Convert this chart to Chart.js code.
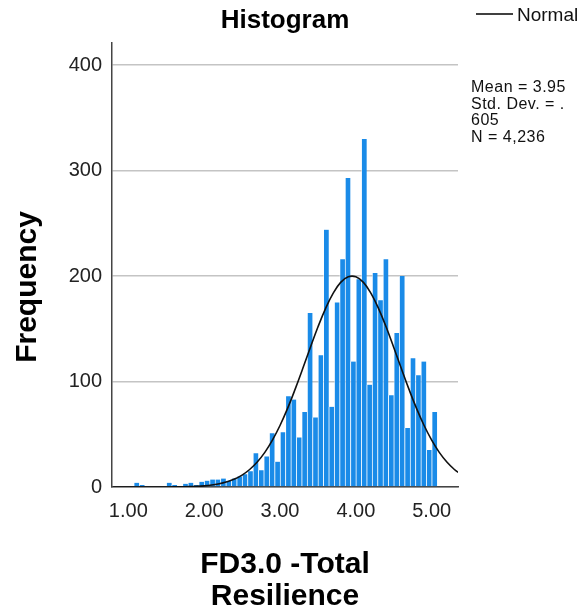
<!DOCTYPE html>
<html>
<head>
<meta charset="utf-8">
<title>Histogram</title>
<script src="https://cdn.jsdelivr.net/npm/chart.js@4.4.1/dist/chart.umd.min.js"></script>
<style>
  html, body { margin: 0; padding: 0; background: #fff; }
  #wrap { width: 581px; height: 613px; position: relative; }
</style>
</head>
<body>
<div id="wrap"><canvas id="histChart"></canvas></div>
<script>
// Histogram bins are 1/14 wide, first one starts at 1 + 1/14
const binStart = 1 + 1 / 14;
const binWidth = 1 / 14;
const counts = [4, 2, 0, 0, 0, 0, 4, 2, 1, 3, 4, 2, 5, 6, 7, 7, 8, 6, 8, 10, 12, 15, 32, 16, 29,
    51, 24, 52, 86, 83, 47, 71, 165, 66, 125, 244, 76, 175, 216, 293, 119, 197, 330, 97, 203,
    177, 216, 87, 146, 200, 56, 122, 106, 119, 35, 71];

// Normal curve
const normalX = [0.8, 0.9, 1.0, 1.1, 1.2, 1.3, 1.4, 1.5, 1.6, 1.7, 1.8, 1.9, 2.0, 2.1, 2.2, 2.3, 2.4,
    2.5, 2.6, 2.7, 2.8, 2.9, 3.0, 3.1, 3.2, 3.3, 3.4, 3.5, 3.6, 3.7, 3.8, 3.9, 4.0, 4.1, 4.2, 4.3,
    4.4, 4.5, 4.6, 4.7, 4.8, 4.9, 5.0, 5.1, 5.2, 5.3, 5.35];
const normalY = [0, 0, 0, 0, 0, 0, 0, 0, 0.1, 0.2, 0.4, 0.6, 1.1, 1.9, 3.0, 4.9, 7.5,
    11.3, 16.6, 23.7, 32.8, 44.4, 58.3, 74.5, 92.8, 112.3, 132.3, 151.7, 169.2, 183.6, 194.0, 199.3, 199.3, 194.0, 183.6, 169.2,
    151.7, 132.3, 112.3, 92.8, 74.5, 58.3, 44.4, 32.8, 23.7, 16.6, 13.8];

const xTicks = [1, 2, 3, 4, 5];
const yTicks = [0, 100, 200, 300, 400];

const statLines = ['Mean = 3.95', 'Std. Dev. = .', '605', 'N = 4,236'];
const legendLabel = 'Normal';

const barData = counts.map((c, i) => ({ x: binStart + (i + 0.5) * binWidth, y: c }));
const curveData = normalX.map((x, i) => ({ x: x, y: normalY[i] }));

const FONT = '"Liberation Sans", Arial, sans-serif';

// Text that sits outside the axes: y title, legend and the stats box
const extraText = {
    id: 'extraText',
    afterDraw(chart) {
        const ctx = chart.ctx;

        ctx.save();
        ctx.fillStyle = '#000';
        ctx.font = 'bold 30px ' + FONT;
        ctx.textAlign = 'center';
        ctx.textBaseline = 'middle';
        ctx.translate(28, 287);
        ctx.rotate(-Math.PI / 2);
        ctx.fillText('Frequency', 0, 0);
        ctx.restore();

        ctx.save();
        ctx.strokeStyle = '#000';
        ctx.lineWidth = 1.5;
        ctx.beginPath();
        ctx.moveTo(476, 14);
        ctx.lineTo(513, 14);
        ctx.stroke();
        ctx.fillStyle = '#111';
        ctx.font = '19px ' + FONT;
        ctx.textAlign = 'left';
        ctx.textBaseline = 'middle';
        ctx.fillText(legendLabel, 517, 16);

        ctx.font = '16px ' + FONT;
        ctx.letterSpacing = '0.5px';
        statLines.forEach((line, i) => {
            ctx.fillText(line, 471, 88 + i * 16.5);
        });
        ctx.restore();
    }
};

new Chart(document.getElementById('histChart'), {
    data: {
        datasets: [
            {
                type: 'line',
                label: 'Normal',
                data: curveData,
                borderColor: '#111',
                borderWidth: 1.6,
                pointRadius: 0,
                tension: 0.4,
                fill: false
            },
            {
                type: 'bar',
                label: 'Frequency',
                data: barData,
                backgroundColor: '#1a8be8',
                borderColor: 'rgba(255,255,255,0.55)',
                borderWidth: { left: 1, right: 0, top: 0, bottom: 0 },
                barPercentage: 1,
                categoryPercentage: 1
            }
        ]
    },
    options: {
        responsive: true,
        maintainAspectRatio: false,
        animation: false,
        events: [],
        layout: { padding: { left: 0, right: 123, top: 0, bottom: 0 } },
        plugins: {
            legend: { display: false },
            tooltip: { enabled: false },
            title: {
                display: true,
                fullSize: false,
                text: 'Histogram',
                color: '#000',
                font: { family: FONT, size: 26, weight: 'bold', lineHeight: 1.2 },
                padding: { top: 5, bottom: 6.8 }
            }
        },
        scales: {
            x: {
                type: 'linear',
                min: 0.785,
                max: 5.347,
                offset: false,
                afterBuildTicks: scale => { scale.ticks = xTicks.map(v => ({ value: v })); },
                afterFit: scale => { scale.height = 126; },
                grid: { display: false },
                border: { display: true, color: '#444', width: 1.5 },
                ticks: {
                    color: '#222',
                    font: { family: FONT, size: 20 },
                    padding: 4,
                    maxRotation: 0,
                    autoSkip: false,
                    callback: v => Number(v).toFixed(2)
                },
                title: {
                    display: true,
                    text: ['FD3.0 -Total', 'Resilience'],
                    color: '#000',
                    font: { family: FONT, size: 30, weight: 'bold', lineHeight: 1.07 },
                    padding: { top: 0, bottom: 0 }
                }
            },
            y: {
                min: 0,
                max: 421,
                afterBuildTicks: scale => { scale.ticks = yTicks.map(v => ({ value: v })); },
                afterFit: scale => { scale.width = 112; },
                grid: { color: '#c4c4c4', lineWidth: 1.5, drawTicks: false },
                border: { display: true, color: '#444', width: 1.5 },
                ticks: {
                    color: '#222',
                    font: { family: FONT, size: 20 },
                    padding: 10
                }
            }
        }
    },
    plugins: [extraText]
});
</script>
</body>
</html>
